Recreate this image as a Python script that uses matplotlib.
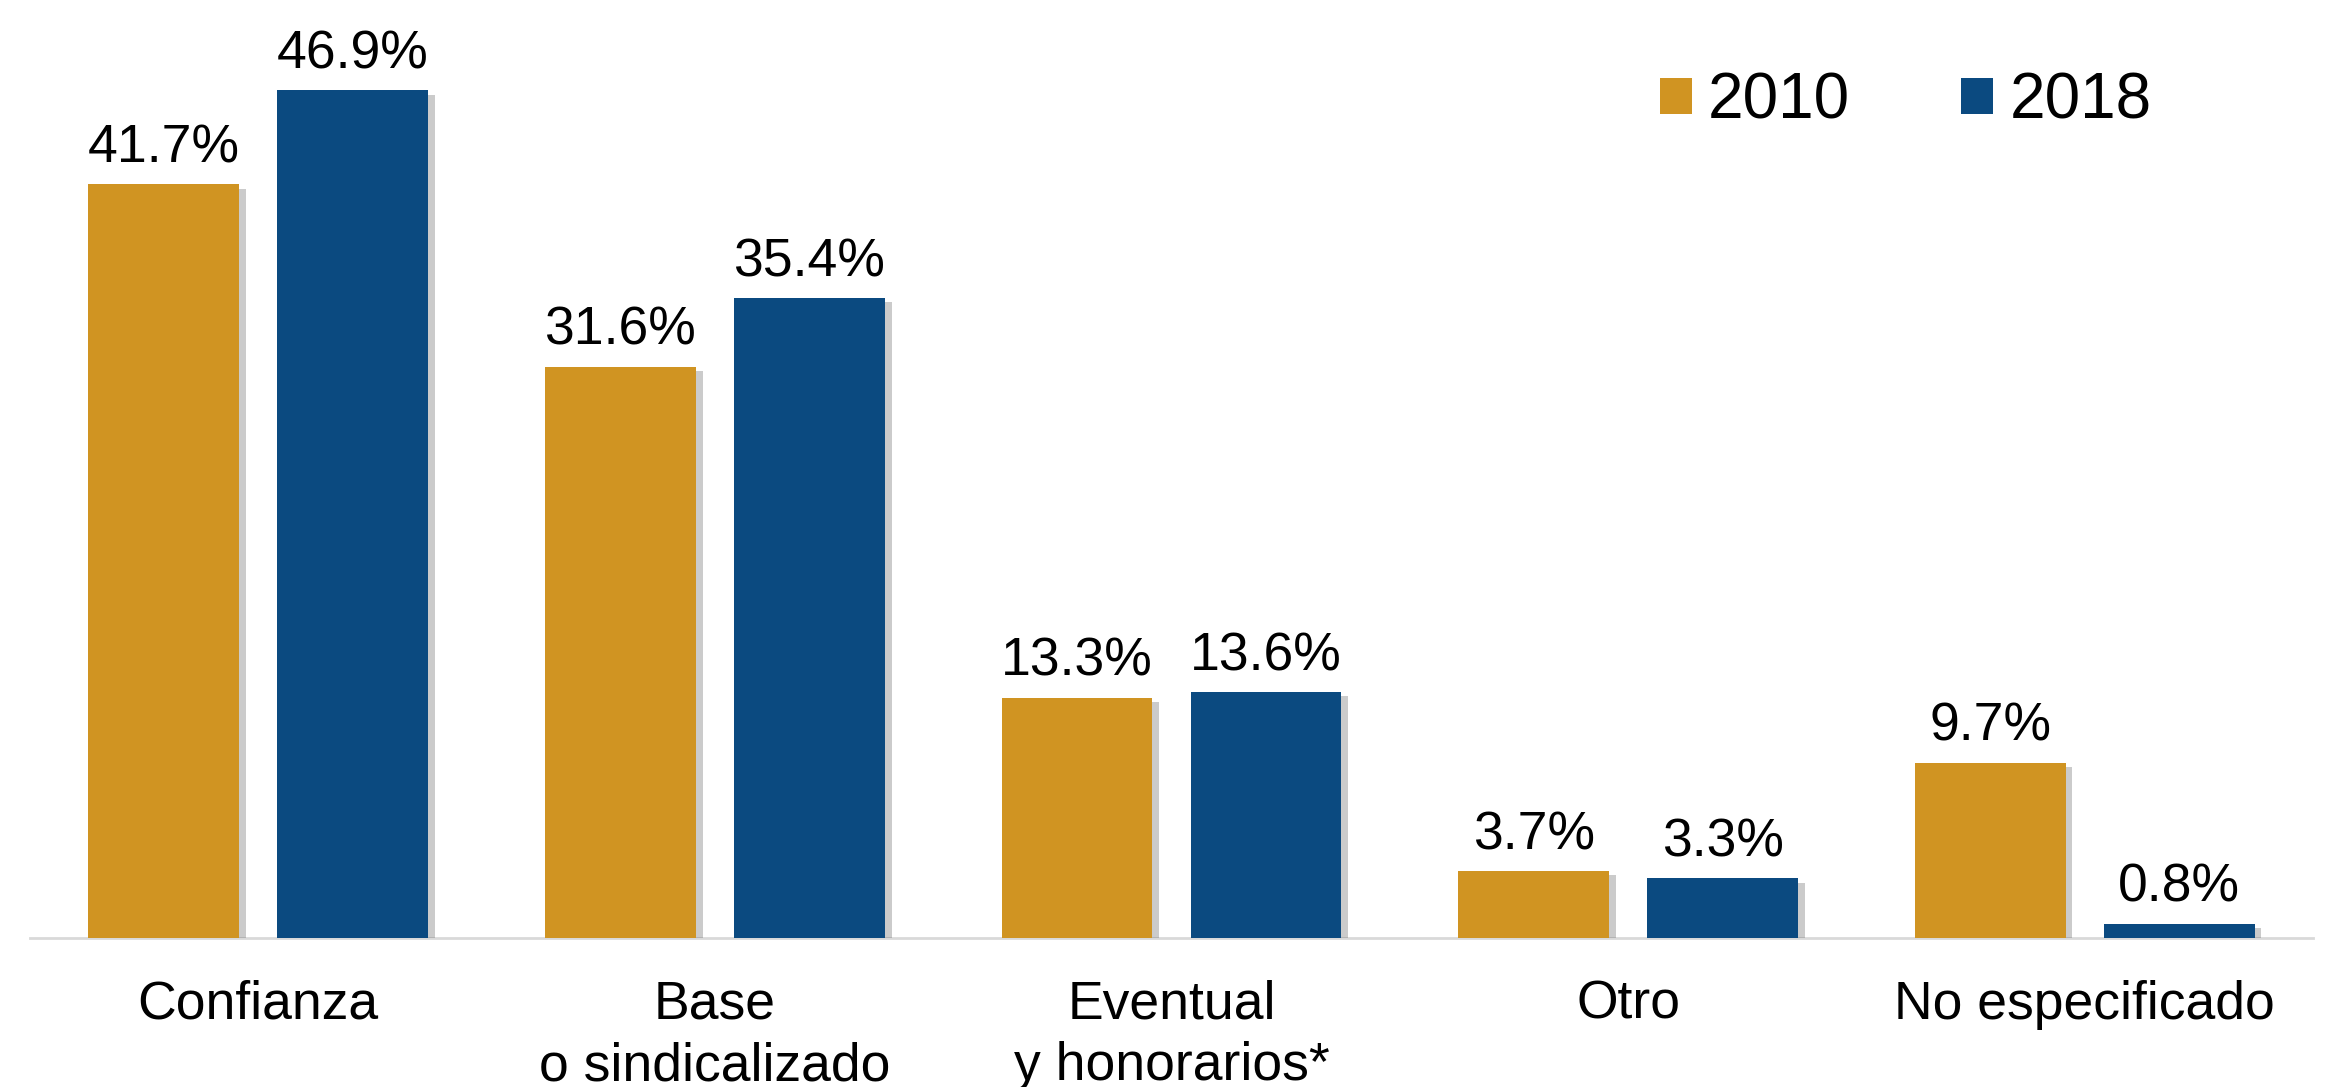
import matplotlib
matplotlib.use("Agg")
import matplotlib.pyplot as plt
import matplotlib.patheffects as pe
from matplotlib.patches import Patch
import numpy as np

plt.rcParams['font.family'] = ['Liberation Sans', 'DejaVu Sans']

categories = ["Confianza", "Base\no sindicalizado", "Eventual\ny honorarios*", "Otro", "No especificado"]
series_names = ["2010", "2018"]
values_2010 = [41.7, 31.6, 13.3, 3.7, 9.7]
values_2018 = [46.9, 35.4, 13.6, 3.3, 0.8]

gold = "#D09422"
blue = "#0B4A80"

fig = plt.figure(figsize=(23.26, 10.87), dpi=100)
ax = fig.add_axes([30/2326, (1087-938)/1087, (2313-30)/2326, 938/1087])

x = np.arange(len(categories))
w = 0.33
off = 0.207
shadow = [pe.SimplePatchShadow(offset=(5, -3), shadow_rgbFace='#555555', alpha=0.3), pe.Normal()]
b1 = ax.bar(x - off, values_2010, w, color=gold, path_effects=shadow, zorder=2)
b2 = ax.bar(x + off, values_2018, w, color=blue, path_effects=shadow, zorder=2)

for bars, vals in ((b1, values_2010), (b2, values_2018)):
    for r, v in zip(bars, vals):
        ax.annotate(f"{v:.1f}%", (r.get_x() + r.get_width()/2, v), xytext=(0, 8),
                    textcoords="offset points", ha="center", va="bottom", fontsize=38.5)

ax.set_xlim(-0.5, len(categories) - 0.5)
ax.set_ylim(0, 51.9)
ax.set_xticks(x)
ax.set_xticklabels(categories, fontsize=38.5, linespacing=1.3, va='top')
ax.tick_params(axis='x', length=0, pad=30)
ax.set_yticks([])
for s in ("left", "right", "top"):
    ax.spines[s].set_visible(False)
ax.spines["bottom"].set_color("#D9D9D9")
ax.spines["bottom"].set_linewidth(2)
ax.spines["bottom"].set_zorder(1)

handles = [Patch(facecolor=gold, label=series_names[0]), Patch(facecolor=blue, label=series_names[1])]
ax.legend(handles=handles, ncol=2, frameon=False, fontsize=46, loc="upper left",
          bbox_to_anchor=((1634-30)/2283, 1 - 46/938), handlelength=0.5, handleheight=0.5,
          handletextpad=0.25, columnspacing=1.75, borderaxespad=0)

fig.savefig("out.png", dpi=100)
